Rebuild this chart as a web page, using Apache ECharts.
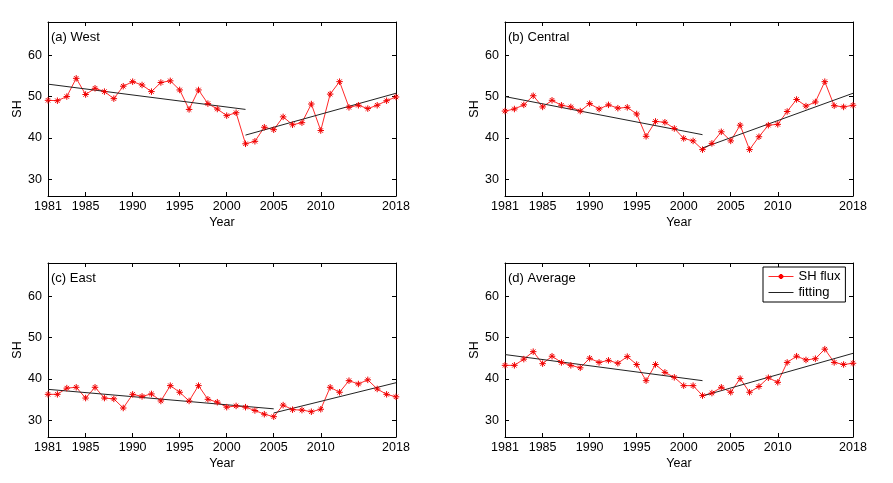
<!DOCTYPE html>
<html>
<head>
<meta charset="utf-8">
<script src="https://cdn.jsdelivr.net/npm/echarts@6/dist/echarts.min.js"></script>
<style>
html, body { margin: 0; padding: 0; background: #fff; }
#main { width: 893px; height: 483px; }
</style>
</head>
<body>
<div id="main"></div>
<script>
// years on the x axis
var years = [1981, 1982, 1983, 1984, 1985, 1986, 1987, 1988, 1989, 1990,
             1991, 1992, 1993, 1994, 1995, 1996, 1997, 1998, 1999, 2000,
             2001, 2002, 2003, 2004, 2005, 2006, 2007, 2008, 2009, 2010,
             2011, 2012, 2013, 2014, 2015, 2016, 2017, 2018];
var xTicks = [1981, 1985, 1990, 1995, 2000, 2005, 2010, 2018];
var yTicks = [30, 40, 50, 60];

var panelTitles = ['(a) West', '(b) Central', '(c) East', '(d) Average'];

// SH flux
var westSH = [49.1, 49.0, 50.0, 54.4, 50.5, 52.0, 51.2, 49.5, 52.5, 53.6,
              52.8, 51.2, 53.4, 53.8, 51.6, 46.9, 51.6, 48.3, 47.0, 45.4,
              46.1, 38.6, 39.2, 42.6, 42.0, 45.1, 43.2, 43.7, 48.2, 41.8,
              50.6, 53.6, 47.4, 47.9, 47.1, 47.9, 49.0, 49.9];
var centralSH = [46.5, 47.0, 48.0, 50.2, 47.5, 49.1, 47.9, 47.5, 46.5, 48.3,
                 47.0, 48.0, 47.2, 47.4, 45.8, 40.4, 44.0, 43.8, 42.3, 39.9,
                 39.3, 37.2, 38.7, 41.5, 39.3, 43.1, 37.2, 40.3, 43.1, 43.3,
                 46.4, 49.3, 47.7, 48.7, 53.6, 47.8, 47.5, 47.9];
var eastSH = [36.3, 36.3, 37.8, 38.0, 35.4, 38.0, 35.4, 35.2, 33.0, 36.3,
              35.8, 36.4, 34.7, 38.4, 36.8, 34.7, 38.4, 35.1, 34.4, 33.2,
              33.5, 33.2, 32.4, 31.5, 30.9, 33.7, 32.6, 32.5, 32.1, 32.7,
              38.0, 36.8, 39.6, 38.8, 39.8, 37.6, 36.3, 35.7];
var averageSH = [43.3, 43.3, 44.8, 46.6, 43.7, 45.5, 44.0, 43.3, 42.7, 45.0,
                 44.0, 44.5, 43.8, 45.4, 43.5, 39.6, 43.5, 41.6, 40.4, 38.4,
                 38.4, 36.0, 36.6, 38.0, 36.8, 40.1, 36.8, 38.2, 40.3, 39.2,
                 44.0, 45.5, 44.6, 44.9, 47.2, 44.0, 43.5, 43.8];

// fitted segments: [start year, value], [end year, value]
var westFit1 = [[1981, 53.0], [2002, 46.9]];
var westFit2 = [[2002, 40.7], [2018, 50.8]];
var centralFit1 = [[1981, 50.0], [2002, 40.8]];
var centralFit2 = [[2002, 37.6], [2018, 50.8]];
var eastFit1 = [[1981, 37.5], [2005, 32.8]];
var eastFit2 = [[2005, 31.8], [2018, 39.1]];
var averageFit1 = [[1981, 45.9], [2002, 39.6]];
var averageFit2 = [[2002, 35.9], [2018, 46.2]];

var panelSH = [westSH, centralSH, eastSH, averageSH];
var panelFits = [[westFit1, westFit2], [centralFit1, centralFit2],
                 [eastFit1, eastFit2], [averageFit1, averageFit2]];

var font = 'Liberation Sans, Arial, sans-serif';
var starPath = 'path://M5 0L5 10M0 5L10 5M1.6 1.6L8.4 8.4M1.6 8.4L8.4 1.6';

var grids = [
    {left: 48, top: 22, width: 348, height: 174},
    {left: 505, top: 22, width: 348, height: 174},
    {left: 48, top: 263, width: 348, height: 174},
    {left: 505, top: 263, width: 348, height: 174}
];

var xAxes = [], yAxes = [], series = [], titles = [];

for (var g = 0; g < 4; g++) {
    var frame = {show: true, lineStyle: {color: '#000', width: 1}};
    // bottom + mirrored top
    xAxes.push({
        type: 'value', gridIndex: g, position: 'bottom', min: 1981, max: 2018,
        name: 'Year', nameLocation: 'middle', nameGap: 20,
        nameTextStyle: {fontFamily: font, fontSize: 12.5, color: '#000'},
        axisLine: frame,
        axisTick: {inside: true, length: 4, customValues: xTicks, lineStyle: {color: '#000'}},
        axisLabel: {
            customValues: xTicks, margin: 4, fontFamily: font, fontSize: 12.5, color: '#000',
            formatter: function (v) { return String(v); }
        },
        splitLine: {show: false}
    });
    xAxes.push({
        type: 'value', gridIndex: g, position: 'top', min: 1981, max: 2018,
        axisLine: frame,
        axisTick: {inside: true, length: 4, customValues: xTicks, lineStyle: {color: '#000'}},
        axisLabel: {show: false},
        splitLine: {show: false}
    });
    // left + mirrored right
    yAxes.push({
        type: 'value', gridIndex: g, position: 'left', min: 26, max: 68,
        name: 'SH', nameLocation: 'middle', nameGap: 22, nameRotate: 90,
        nameTextStyle: {fontFamily: font, fontSize: 12.5, color: '#000'},
        axisLine: frame,
        axisTick: {inside: true, length: 4, customValues: yTicks, lineStyle: {color: '#000'}},
        axisLabel: {customValues: yTicks, margin: 6, fontFamily: font, fontSize: 12.5, color: '#000'},
        splitLine: {show: false}
    });
    yAxes.push({
        type: 'value', gridIndex: g, position: 'right', min: 26, max: 68,
        axisLine: frame,
        axisTick: {inside: true, length: 4, customValues: yTicks, lineStyle: {color: '#000'}},
        axisLabel: {show: false},
        splitLine: {show: false}
    });

    titles.push({
        text: panelTitles[g],
        left: grids[g].left + 3, top: grids[g].top + 9, padding: 0,
        textStyle: {fontFamily: font, fontSize: 13, fontWeight: 'normal', color: '#000'}
    });

    var pts = [];
    for (var i = 0; i < years.length; i++) {
        pts.push([years[i], panelSH[g][i]]);
    }
    series.push({
        name: 'SH flux', type: 'line', xAxisIndex: 2 * g, yAxisIndex: 2 * g,
        data: pts, symbol: starPath, symbolSize: 6.5, showAllSymbol: true,
        lineStyle: {color: '#ff2a2a', width: 1},
        itemStyle: {color: '#ff0000', borderColor: '#f00000', borderWidth: 1},
        silent: true, animation: false
    });
    for (var k = 0; k < 2; k++) {
        series.push({
            name: 'fitting', type: 'line', xAxisIndex: 2 * g, yAxisIndex: 2 * g,
            data: panelFits[g][k], symbol: 'none',
            lineStyle: {color: '#222', width: 1},
            itemStyle: {color: '#222'},
            silent: true, animation: false
        });
    }
}

var option = {
    backgroundColor: '#fff',
    animation: false,
    title: titles,
    grid: grids,
    xAxis: xAxes,
    yAxis: yAxes,
    legend: {
        data: [
            {name: 'SH flux', itemStyle: {color: '#ff0000', borderColor: '#ff0000'},
             lineStyle: {width: 1, color: '#ff2a2a'}},
            {name: 'fitting', itemStyle: {opacity: 0}, lineStyle: {width: 1, color: '#222'}}
        ],
        orient: 'vertical',
        left: 763, top: 267,
        padding: [3, 5, 3, 5],
        itemGap: 3,
        itemWidth: 25, itemHeight: 6,
        backgroundColor: '#fff',
        borderColor: '#000', borderWidth: 1,
        textStyle: {fontFamily: font, fontSize: 13, color: '#000'}
    },
    series: series
};

var myChart = echarts.init(document.getElementById('main'));
myChart.setOption(option);
</script>
</body>
</html>
